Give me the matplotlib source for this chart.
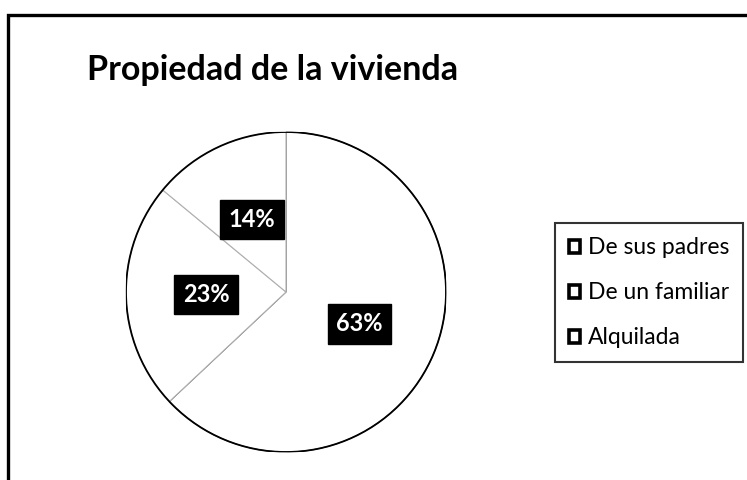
import numpy as np
import matplotlib.pyplot as plt
from matplotlib.patches import Patch, Rectangle, Circle

# Data
categories = ['De sus padres', 'De un familiar', 'Alquilada']
shares = [63, 23, 14]
title = 'Propiedad de la vivienda'

plt.rcParams['font.family'] = ['Lato', 'DejaVu Sans']

fig = plt.figure(figsize=(7.47, 4.8), dpi=100)
fig.patch.set_facecolor('white')

# Scanned chart frame (only left and top edges show in the scan)
fig.add_artist(Rectangle((0.0105, -0.05), 1.1, 1.018, transform=fig.transFigure,
                         fill=False, edgecolor='black', linewidth=2.4))

fig.text(0.365, 0.833, title, ha='center', va='baseline',
         fontsize=24.5, fontweight='bold', color='black')

# Pie axes: centre ~ (286, 292) px, radius ~160 px
ax = fig.add_axes([(286 - 160) / 747, (480 - 292 - 160) / 480, 320 / 747, 320 / 480])
wedges, texts = ax.pie(
    shares, startangle=90, counterclock=False,
    colors=['white'] * len(shares),
    wedgeprops=dict(edgecolor='#b0b0b0', linewidth=0.8),
)
# the boundary at 12 o'clock shows dark in the scan
wedges[0].set_edgecolor('#404040')
ax.add_patch(Circle((0, 0), 1, fill=False, edgecolor='black', linewidth=1.3))
ax.set_xlim(-1, 1)
ax.set_ylim(-1, 1)
ax.set_aspect('equal')
ax.axis('off')

# Percentage labels in dark boxes
for w, s in zip(wedges, shares):
    mid = np.deg2rad((w.theta1 + w.theta2) / 2)
    x, y = 0.5 * np.cos(mid), 0.5 * np.sin(mid)
    ax.text(x, y, f'{s}%', ha='center', va='center', fontsize=17,
            fontweight='bold', color='white', zorder=5,
            bbox=dict(boxstyle='square,pad=0.35', facecolor='black', edgecolor='black'))

handles = [Patch(facecolor='white', edgecolor='black', linewidth=2.6) for _ in categories]
leg = fig.legend(handles, categories, loc='center right',
                 bbox_to_anchor=(0.995, 0.39), frameon=True, fontsize=16.5,
                 handlelength=0.5, handleheight=0.5, handletextpad=0.35,
                 labelspacing=1.05, borderpad=0.6, borderaxespad=0.0,
                 fancybox=False)
leg.get_frame().set_edgecolor('black')
leg.get_frame().set_linewidth(1.5)

fig.savefig('out.png', dpi=100)
